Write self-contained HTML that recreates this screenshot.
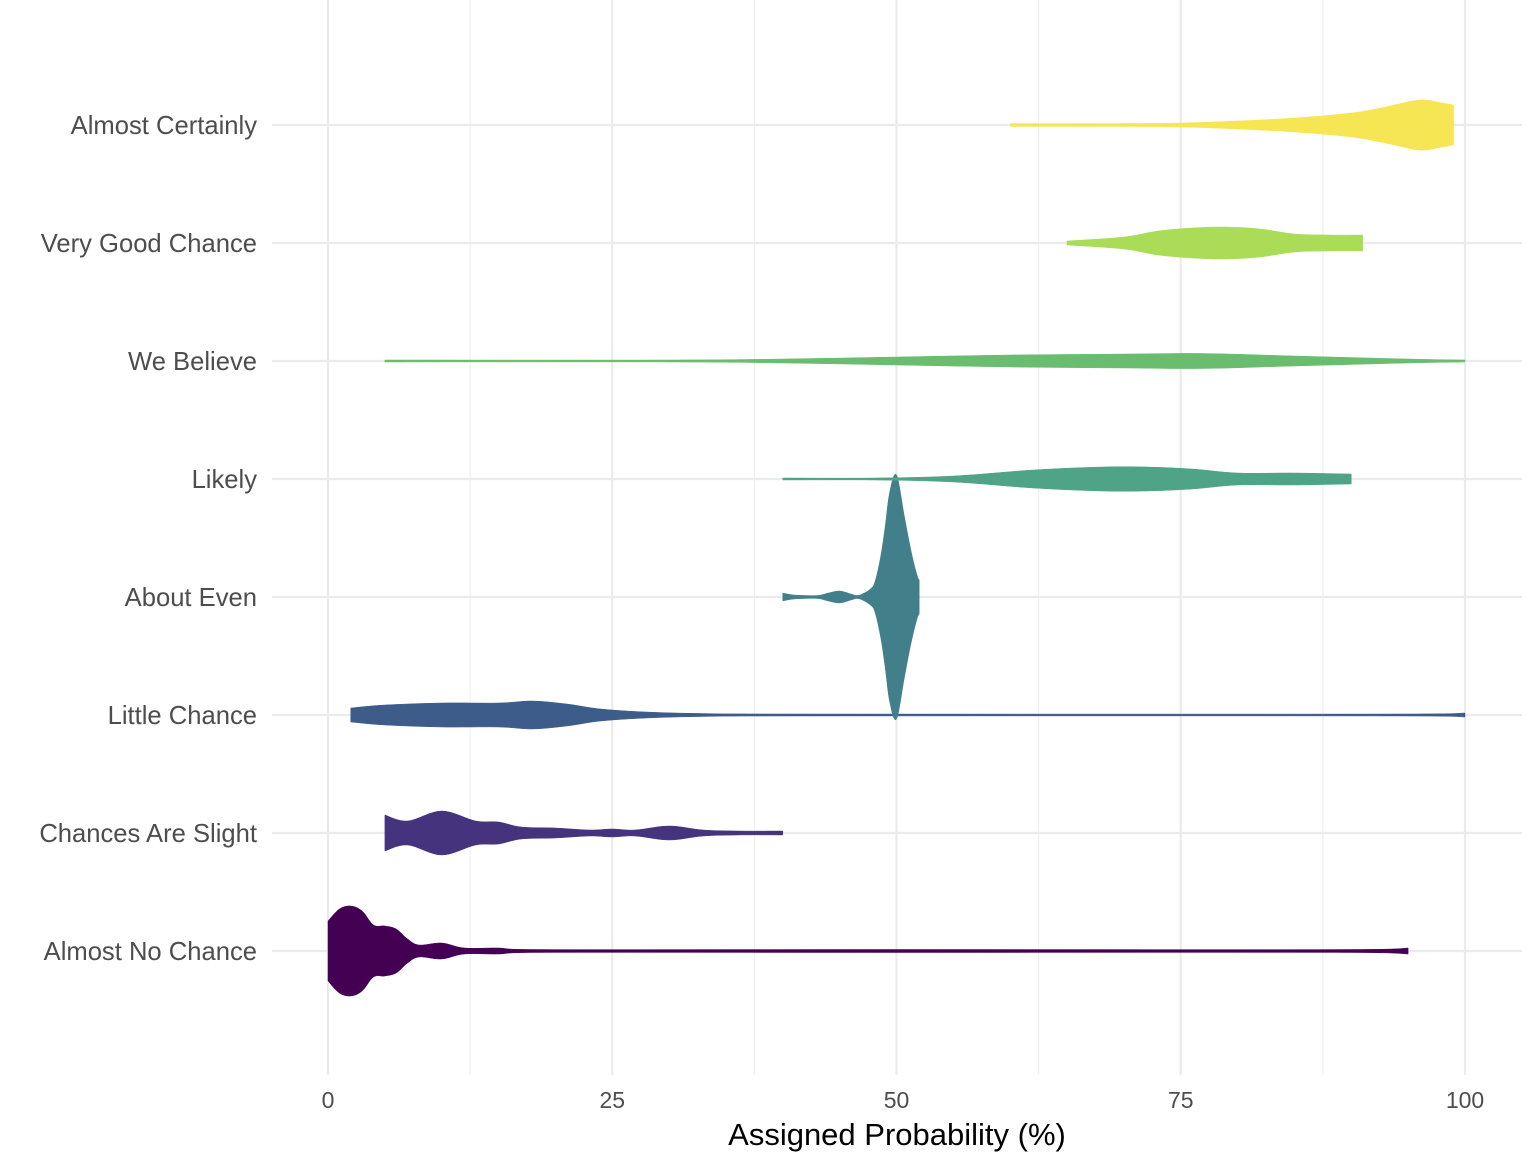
<!DOCTYPE html>
<html><head><meta charset="utf-8"><style>
html,body{margin:0;padding:0;background:#fff;}
svg{display:block;font-family:"Liberation Sans",sans-serif;}
</style></head><body>
<svg id="chart" width="1538" height="1164" viewBox="0 0 1538 1164">
<g id="grid"></g>
<g id="violins"></g>
<g id="axes"></g>
<text x="897" y="1145" text-anchor="middle" font-size="31" fill="#000">Assigned Probability (%)</text>
</svg>
<script>
const categories = ["Almost No Chance","Chances Are Slight","Little Chance","About Even","Likely","We Believe","Very Good Chance","Almost Certainly"];
const colors = ["#440154","#46337E","#3E5C8A","#417F8B","#4FA386","#6ABD6E","#AADC57","#F7E654"];
const xTicks = [0,25,50,75,100];
const xTickLabels = ["0","25","50","75","100"];
// density profiles: [probability, half-width density]
const dNoChance = [[0,30],[1,42],[2,45],[3,40],[4,26],[5,25],[6,22],[7,12],[8,6],[10,8],[12,3],[15,3],[18,1.5],[50,1.5],[90,1.5],[95,3]];
const dSlight = [[5,18],[7,12],[10,22],[13,12],[15,11],[17,6],[20,5],[23,3],[25,4],[27,3],[30,7],[33,3],[36,2],[40,2]];
const dLittle = [[2,7],[5,10],[10,12],[15,12],[18,14],[21,11],[24,6],[28,3],[33,1.5],[40,1],[95,1],[100,2]];
const dEven = [[40,4],[41,2],[43,1.5],[44,4],[45,6],[46,3],[46.5,1.5],[47,3],[47.7,8],[48.1,15],[48.6,40],[49,70],[49.4,105],[50,122],[50.7,80],[51.3,45],[51.8,22],[52,17]];
const dLikely = [[40,1],[48,1],[55,3],[62,9],[68,12],[72,12],[76,10],[80,6],[85,6],[90,5]];
const dBelieve = [[5,1],[30,1],[40,2],[50,4],[60,6],[70,7],[77,7.5],[85,5],[95,2],[100,1]];
const dVeryGood = [[65,2],[70,6],[73,12],[76,15],[79,16],[82,14],[85,9],[88,8],[91,8]];
const dCertain = [[60,1.5],[70,1.5],[75,2],[80,4],[85,7],[90,12],[93,18],[96,25],[98,22],[99,20]];
const densities = [dNoChance,dSlight,dLittle,dEven,dLikely,dBelieve,dVeryGood,dCertain];

const NS="http://www.w3.org/2000/svg";
const x = v => 328 + v*11.37;
const y = i => 951 - i*118;
function mk(tag, parent, attrs){const e=document.createElementNS(NS,tag);for(const k in attrs)e.setAttribute(k,attrs[k]);parent.appendChild(e);return e;}
function clampX(v,a,b){const lo=Math.min(a,b),hi=Math.max(a,b);return Math.max(lo,Math.min(hi,v));}
function smooth(pts){
  let s='';
  for(let k=0;k<pts.length-1;k++){
    const p0=pts[k-1]||pts[k], p1=pts[k], p2=pts[k+1], p3=pts[k+2]||p2;
    const c1=[clampX(p1[0]+(p2[0]-p0[0])/6,p1[0],p2[0]), p1[1]+(p2[1]-p0[1])/6];
    const c2=[clampX(p2[0]-(p3[0]-p1[0])/6,p1[0],p2[0]), p2[1]-(p3[1]-p1[1])/6];
    s+='C'+c1[0].toFixed(1)+','+c1[1].toFixed(1)+' '+c2[0].toFixed(1)+','+c2[1].toFixed(1)+' '+p2[0].toFixed(1)+','+p2[1].toFixed(1);
  }
  return s;
}
const grid=document.getElementById('grid'), vg=document.getElementById('violins'), ax=document.getElementById('axes');
for(let t=12.5;t<100;t+=25){
  const l=mk('line',grid,{x1:x(t),x2:x(t),y1:0,y2:1075,stroke:'#F0F0F0','stroke-width':1.2});
  
  
}
xTicks.forEach((t,i)=>{
  const l=mk('line',grid,{x1:x(t),x2:x(t),y1:0,y2:1075,stroke:'#EBEBEB','stroke-width':2.2});
  
  
  const tx=mk('text',ax,{x:x(t),y:1108,'text-anchor':'middle','font-size':23,fill:'#4D4D4D'});
  tx.textContent=xTickLabels[i];
  
  
});
categories.forEach((c,i)=>{
  const l=mk('line',grid,{x1:272,x2:1522,y1:y(i),y2:y(i),stroke:'#EBEBEB','stroke-width':2.2});
  
  
  const tx=mk('text',ax,{x:257,y:y(i)+9,'text-anchor':'end','font-size':25.6,fill:'#4D4D4D'});
  tx.textContent=c;
  
  
  const d=densities[i];
  const top=d.map(q=>[x(q[0]),y(i)-q[1]]);
  const bot=d.slice().reverse().map(q=>[x(q[0]),y(i)+q[1]]);
  let p='M'+top[0][0].toFixed(1)+','+top[0][1].toFixed(1)+smooth(top)+'L'+bot[0][0].toFixed(1)+','+bot[0][1].toFixed(1)+smooth(bot)+'Z';
  const v=mk('path',vg,{d:p,fill:colors[i],stroke:colors[i],'stroke-width':0.5,'stroke-linejoin':'round'});
  
  
});
</script>
</body></html>
